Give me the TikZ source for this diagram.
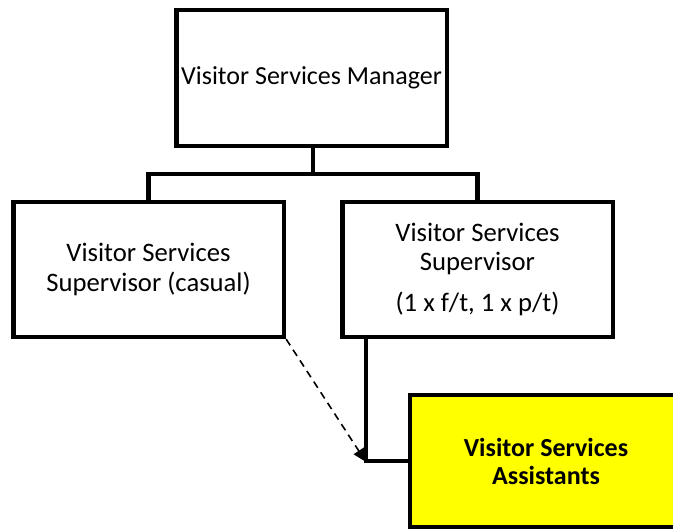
\documentclass[tikz,border=0pt]{standalone}
\usepackage{fontspec}
\setmainfont{Carlito}
\usetikzlibrary{arrows.meta}
\definecolor{vsyellow}{RGB}{255,255,0}

\begin{document}
\begin{tikzpicture}[
x=0.75pt, y=-0.75pt,
box/.style={draw=black, line width=3.5pt, fill=white, minimum width=203pt, minimum height=101pt, align=center, inner sep=2pt, font=\fontsize{20}{22}\selectfont},
staffbox/.style={box, fill=vsyellow, minimum width=204pt, minimum height=99pt, font=\fontsize{19.5}{21}\selectfont\bfseries},
link/.style={line width=3.5pt},
dotlink/.style={-{Triangle[length=10pt,width=9pt]}, line width=1.2pt, dash pattern=on 5.5pt off 4pt}
]
\useasboundingbox (0,0) rectangle (673,530);
\node[box, minimum height=102pt, font=\fontsize{19.5}{22}\selectfont] (mgr) at (311.5,78) {Visitor Services Manager};
\node[box] (supcas) at (148.5,269.5) {Visitor Services\\Supervisor (casual)};
\node[box] (supft) at (477.5,269.5) {Visitor Services\\Supervisor\\[9pt](1 x f/t, 1 x p/t)};
\node[staffbox] (asst) at (546,461) {Visitor Services\\Assistants};
\coordinate (bar) at (313,174);
\coordinate (tip) at (366,462);
\draw[link] (mgr.south -| bar) -- (bar);
\draw[link] (supcas.north) |- (bar) -| (supft.north);
\draw[link] ([xshift=19.5pt]supft.south west) |- (asst.west);
\draw[dotlink] (supcas.south east) -- (tip);
\end{tikzpicture}
\end{document}
